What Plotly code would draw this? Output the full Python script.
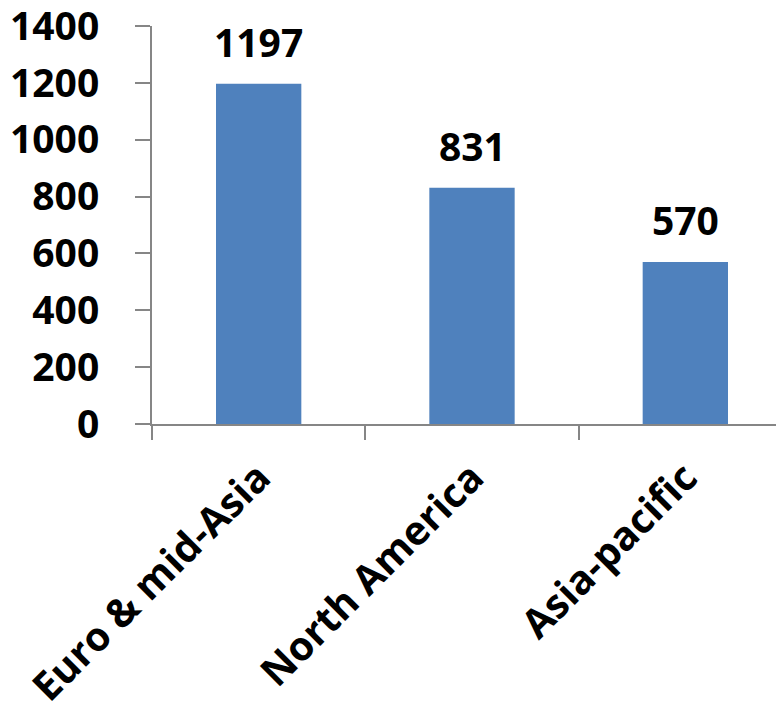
import plotly.graph_objects as go

categories = ["Euro & mid-Asia", "North America", "Asia-pacific"]
values = [1197, 831, 570]
y_ticks = [0, 200, 400, 600, 800, 1000, 1200, 1400]

FONT = "Open Sans"
AXIS_COLOR = "#868686"

fig = go.Figure()
fig.add_trace(go.Bar(
    x=categories,
    y=values,
    marker=dict(color="#4F81BD", line=dict(width=0)),
    width=0.4,
    showlegend=False,
))

for c, v in zip(categories, values):
    fig.add_annotation(
        x=c, y=v, text=f"<b>{v}</b>", showarrow=False,
        yanchor="bottom", yshift=14,
        font=dict(family=FONT, size=39, color="black"),
    )

fig.update_layout(
    width=784, height=712,
    margin=dict(l=144, r=0, t=18, b=296, autoexpand=False),
    paper_bgcolor="white", plot_bgcolor="white",
    font=dict(family=FONT, color="black"),
)
fig.update_xaxes(
    range=[-0.5, 2.5],
    automargin=False,
    showline=True, linecolor=AXIS_COLOR, linewidth=2,
    ticks="outside", tickson="boundaries", ticklen=14, tickcolor=AXIS_COLOR, tickwidth=2,
    tickangle=-45,
    tickfont=dict(family=FONT, size=40, color="black", weight="bold"),
    ticklabelstandoff=12,
    ticklabeloverflow="allow",
    showgrid=False, zeroline=False,
)
fig.update_yaxes(
    range=[0, 1400],
    automargin=False,
    tickvals=y_ticks,
    showline=True, linecolor=AXIS_COLOR, linewidth=2,
    ticks="outside", ticklen=15, tickcolor=AXIS_COLOR, tickwidth=2,
    tickfont=dict(family=FONT, size=39, color="black", weight="bold"),
    ticklabelstandoff=28,
    ticklabeloverflow="allow",
    showgrid=False, zeroline=False,
)

fig.write_html("out.html")
